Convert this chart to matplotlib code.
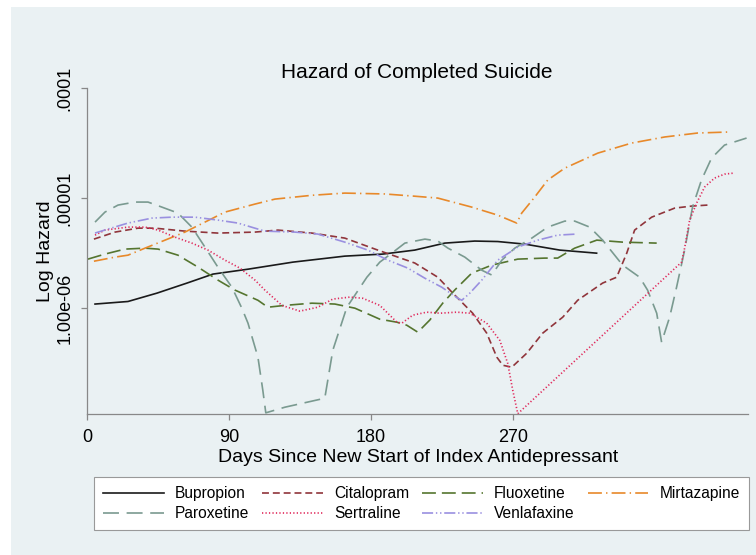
import matplotlib
matplotlib.use("Agg")
import matplotlib.pyplot as plt
from matplotlib.patches import Rectangle

plt.rcParams["font.family"] = ["Liberation Sans", "DejaVu Sans"]
plt.rcParams["lines.scale_dashes"] = False

# ---- data (days, hazard) ----
bupropion_days = [4.9, 25.8, 44.2, 63.2, 79.7, 101.9, 130.4, 163.3, 187.4, 207.7,
                  226.7, 245.7, 260.3, 277.4, 299.6, 323.0]
bupropion_haz = [1.09e-6, 1.15e-6, 1.37e-6, 1.69e-6, 2.04e-6, 2.26e-6, 2.62e-6, 2.97e-6,
                 3.10e-6, 3.37e-6, 3.90e-6, 4.07e-6, 4.03e-6, 3.82e-6, 3.37e-6, 3.16e-6]

citalopram_days = [4.2, 17.6, 32.1, 42.9, 61.9, 82.8, 106.3, 120.9, 142.4, 163.3, 184.2,
                   207.7, 222.3, 231.8, 244.4, 253.3, 259.7, 263.5, 269.2, 278.7, 288.8,
                   301.5, 311.0, 326.8, 335.7, 342.1, 347.1, 357.9, 372.5, 383.3, 393.4]
citalopram_haz = [4.24e-6, 4.91e-6, 5.33e-6, 5.33e-6, 5.01e-6, 4.81e-6, 4.91e-6, 5.12e-6,
                  4.81e-6, 4.33e-6, 3.37e-6, 2.57e-6, 1.91e-6, 1.37e-6, 9.0e-7, 5.93e-7,
                  3.59e-7, 3.03e-7, 2.91e-7, 3.90e-7, 5.93e-7, 8.28e-7, 1.18e-6, 1.69e-6,
                  1.91e-6, 3.16e-6, 5.12e-6, 6.71e-6, 8.11e-6, 8.46e-6, 8.64e-6]

fluoxetine_days = [0.4, 11.2, 23.9, 36.6, 44.9, 57.5, 70.2, 82.8, 93.6, 108.2, 114.5, 125.3,
                   142.4, 157.0, 169.7, 185.5, 196.3, 202.6, 209.6, 217.2, 225.4, 233.0,
                   243.8, 256.5, 273.0, 290.1, 298.3, 304.7, 309.1, 323.1, 339.5, 361.1]
fluoxetine_haz = [2.79e-6, 3.10e-6, 3.44e-6, 3.51e-6, 3.44e-6, 3.03e-6, 2.36e-6, 1.80e-6,
                  1.46e-6, 1.18e-6, 1.02e-6, 1.06e-6, 1.11e-6, 1.09e-6, 1.0e-6, 7.94e-7,
                  7.46e-7, 7.0e-7, 6.05e-7, 7.8e-7, 1.11e-6, 1.46e-6, 2.08e-6, 2.46e-6,
                  2.79e-6, 2.85e-6, 2.85e-6, 3.23e-6, 3.51e-6, 4.15e-6, 3.98e-6, 3.90e-6]

mirtazapine_days = [4.2, 17.6, 25.8, 36.6, 49.3, 61.9, 74.6, 87.3, 106.3, 119.0, 142.4,
                    163.3, 188.7, 207.7, 222.3, 243.8, 260.3, 272.3, 275.5, 283.7, 292.0,
                    302.8, 323.7, 345.2, 366.2, 387.1, 406.1]
mirtazapine_haz = [2.67e-6, 2.91e-6, 3.03e-6, 3.51e-6, 4.15e-6, 4.91e-6, 6.05e-6, 7.46e-6,
                   8.82e-6, 9.79e-6, 1.06e-5, 1.11e-5, 1.09e-5, 1.04e-5, 1.0e-5, 8.28e-6,
                   7.0e-6, 5.93e-6, 7.31e-6, 1.02e-5, 1.46e-5, 1.87e-5, 2.56e-5, 3.16e-5,
                   3.59e-5, 3.90e-5, 3.98e-5]

paroxetine_days = [4.9, 11.2, 19.5, 30.2, 38.5, 47.3, 57.5, 66.3, 74.6, 82.8, 91.7, 98.0,
                   101.9, 108.2, 111.3, 113.2, 125.3, 150.6, 155.7, 164.6, 177.3, 185.5,
                   193.1, 201.4, 214.1, 222.3, 228.7, 239.4, 250.2, 256.5, 262.9, 271.1,
                   281.9, 292.0, 302.8, 309.1, 318.6, 326.8, 339.5, 350.3, 355.3, 361.1,
                   364.2, 369.3, 373.7, 378.8, 383.8, 389.5, 395.9, 404.1, 418.1]
paroxetine_haz = [6.05e-6, 7.46e-6, 8.64e-6, 9.2e-6, 9.2e-6, 8.28e-6, 7.31e-6, 5.45e-6,
                  3.59e-6, 2.36e-6, 1.55e-6, 1.0e-6, 7.31e-7, 3.59e-7, 1.8e-7, 1.12e-7,
                  1.26e-7, 1.52e-7, 4.15e-7, 1.02e-6, 1.91e-6, 2.62e-6, 3.16e-6, 3.90e-6,
                  4.24e-6, 4.07e-6, 3.51e-6, 2.91e-6, 2.21e-6, 2.0e-6, 2.73e-6, 3.51e-6,
                  4.33e-6, 5.45e-6, 6.18e-6, 6.18e-6, 5.45e-6, 4.15e-6, 2.46e-6, 1.91e-6,
                  1.46e-6, 9.0e-7, 4.91e-7, 8.28e-7, 1.55e-6, 3.37e-6, 8.28e-6, 1.46e-5,
                  2.31e-5, 3.03e-5, 3.51e-5]

sertraline_days = [4.9, 11.2, 25.8, 36.6, 44.9, 55.6, 66.3, 76.5, 87.3, 96.8, 106.3, 112.6,
                   123.4, 134.8, 146.2, 155.7, 166.5, 174.7, 185.5, 196.3, 199.5, 206.4,
                   215.3, 223.6, 234.4, 242.6, 253.3, 261.6, 266.6, 269.8, 273.0, 376.9,
                   378.8, 382.0, 386.4, 391.5, 397.8, 404.1, 410.5]
sertraline_haz = [4.61e-6, 5.12e-6, 5.45e-6, 5.45e-6, 5.12e-6, 4.42e-6, 3.90e-6, 3.37e-6,
                  2.73e-6, 2.31e-6, 1.80e-6, 1.46e-6, 1.06e-6, 9.4e-7, 1.02e-6, 1.21e-6,
                  1.26e-6, 1.23e-6, 1.06e-6, 7.46e-7, 7.31e-7, 8.64e-7, 9.2e-7, 9.0e-7,
                  9.2e-7, 9.0e-7, 7.31e-7, 5.1e-7, 3.16e-7, 1.8e-7, 1.1e-7, 2.62e-6,
                  3.51e-6, 6.31e-6, 9.0e-6, 1.26e-5, 1.52e-5, 1.65e-5, 1.69e-5]

venlafaxine_days = [4.9, 13.1, 25.8, 41.0, 53.7, 68.3, 82.8, 95.5, 106.3, 112.6, 131.6,
                    146.2, 163.3, 177.9, 190.6, 203.3, 214.1, 224.8, 235.0, 237.5, 242.6,
                    250.2, 260.3, 273.0, 285.7, 298.3, 310.3]
venlafaxine_haz = [4.81e-6, 5.23e-6, 5.93e-6, 6.58e-6, 6.71e-6, 6.71e-6, 6.31e-6, 5.93e-6,
                   5.33e-6, 5.01e-6, 4.91e-6, 4.71e-6, 3.98e-6, 3.37e-6, 2.73e-6, 2.31e-6,
                   1.87e-6, 1.55e-6, 1.23e-6, 1.18e-6, 1.37e-6, 1.80e-6, 2.73e-6, 3.59e-6,
                   4.15e-6, 4.61e-6, 4.71e-6]

x_ticks = [0, 90, 180, 270]
y_ticks = [1e-6, 1e-5, 1e-4]
y_tick_labels = ["1.00e-06", ".00001", ".0001"]

BG = "#eaf1f3"

fig = plt.figure(figsize=(7.56, 5.55), dpi=100, facecolor="white")
fig.patches.append(Rectangle((11 / 756, 0), 1 - 11 / 756, 1 - 7 / 555,
                             transform=fig.transFigure, facecolor=BG,
                             edgecolor="none", zorder=-10))

ax = fig.add_axes([87.3 / 756, (555 - 413.7) / 555, (748 - 87.3) / 756, (413.7 - 88) / 555])
ax.patch.set_visible(False)

series = [
    ("Bupropion", bupropion_days, bupropion_haz, "#1a1a1a", "-"),
    ("Citalopram", citalopram_days, citalopram_haz, "#90353b", (0, (5, 2.8))),
    ("Fluoxetine", fluoxetine_days, fluoxetine_haz, "#55752f", (0, (10, 4.3))),
    ("Mirtazapine", mirtazapine_days, mirtazapine_haz, "#e8892a", (0, (10, 3, 1, 3))),
    ("Paroxetine", paroxetine_days, paroxetine_haz, "#7a9a90", (0, (11.5, 5.5))),
    ("Sertraline", sertraline_days, sertraline_haz, "#e0285a", (0, (0.9, 1.6))),
    ("Venlafaxine", venlafaxine_days, venlafaxine_haz, "#9a90e0", (0, (8, 2, 1, 2, 1, 2))),
]

handles = {}
for name, d, h, c, ls in series:
    ln, = ax.plot(d, h, color=c, linestyle=ls, linewidth=1.2, label=name)
    handles[name] = ln

ax.set_yscale("log")
ax.set_xlim(0, 419)
ax.set_ylim(1.1e-7, 1e-4)
ax.set_xticks(x_ticks)
ax.set_xticklabels([str(t) for t in x_ticks], fontsize=13)
ax.set_yticks(y_ticks)
ax.set_yticklabels(y_tick_labels, fontsize=13, rotation=90, va="center")
ax.minorticks_off()
ax.tick_params(axis="both", length=4, width=0.9, color="#888888")
ax.tick_params(axis="x", pad=7)
ax.tick_params(axis="y", pad=6)

for s in ["top", "right"]:
    ax.spines[s].set_visible(False)
for s in ["left", "bottom"]:
    ax.spines[s].set_color("#888888")
    ax.spines[s].set_linewidth(0.9)

ax.set_xlabel("Days Since New Start of Index Antidepressant", fontsize=14, labelpad=2)
ax.set_ylabel("Log Hazard", fontsize=14, labelpad=2)
fig.text(417 / 756, 1 - 73 / 555, "Hazard of Completed Suicide", fontsize=15,
         ha="center", va="center")

order = ["Bupropion", "Paroxetine", "Citalopram", "Sertraline",
         "Fluoxetine", "Venlafaxine", "Mirtazapine"]
leg = fig.legend([handles[n] for n in order], order, ncol=4,
                 loc="upper left", bbox_to_anchor=(94 / 756, 1 - 477 / 555),
                 borderaxespad=0,
                 fontsize=11.2, handlelength=3.9, handletextpad=0.7, columnspacing=0.85,
                 borderpad=0.6, labelspacing=0.3, frameon=True, fancybox=False,
                 edgecolor="#999999", facecolor="white", framealpha=1)
leg.get_frame().set_linewidth(0.8)

fig.savefig("out.png", dpi=100, facecolor=fig.get_facecolor())
